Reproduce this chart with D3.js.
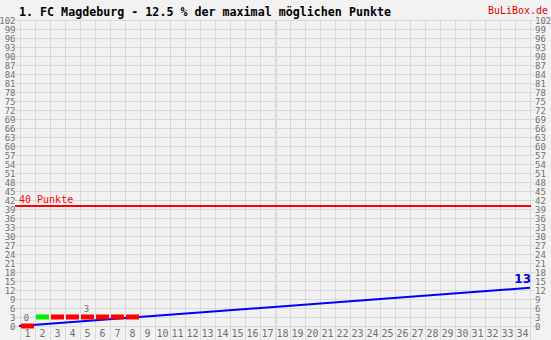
<!DOCTYPE html>
<html><head><meta charset="utf-8">
<script src="https://cdn.jsdelivr.net/npm/d3@7"></script>
<style>
html,body{margin:0;padding:0;background:#f2f2f2;}
svg{display:block;}
</style></head>
<body>
<script>
// ---- data ----
const title = "1. FC Magdeburg - 12.5 % der maximal möglichen Punkte";
const brand = "BuLiBox.de";
const matchdays = d3.range(1, 35);            // 1..34
const points = [0, 3, 3, 3, 3, 3, 3, 3];      // cumulative points after each played matchday
const results = ["L", "W", "L", "L", "L", "L", "L", "L"];
const yTicks = d3.range(0, 103, 3);           // 0..102
const targetPoints = 40;
const targetLabel = "40 Punkte";
const resultColors = {W: "#00ee00", D: "#ffee00", L: "#ff0000"};

// ---- layout ----
const W = 551, H = 340;
const svg = d3.select("body").append("svg").attr("width", W).attr("height", H);
svg.append("rect").attr("width", W).attr("height", H).attr("fill", "#f2f2f2");

const x = d3.scaleLinear().domain([0, 34]).range([20, 530]);
const y = d3.scaleLinear().domain([0, 102]).range([326, 20]);
const grid = "#d9d9d9";
const mono = "'DejaVu Sans Mono', monospace";

// horizontal gridlines
svg.append("g").selectAll("line").data(yTicks).join("line")
  .attr("x1", 15).attr("x2", 535)
  .attr("y1", d => Math.round(y(d)) + 0.5).attr("y2", d => Math.round(y(d)) + 0.5)
  .attr("stroke", grid).attr("stroke-width", 1);

// vertical gridlines
svg.append("g").selectAll("line").data(d3.range(0, 35)).join("line")
  .attr("x1", d => Math.round(x(d)) + (d === 17 ? 1 : 0.5))
  .attr("x2", d => Math.round(x(d)) + (d === 17 ? 1 : 0.5))
  .attr("y1", 20).attr("y2", H)
  .attr("stroke", grid).attr("stroke-width", d => d === 17 ? 2 : 1);

// y axis labels (left and right)
const ylab = svg.append("g").attr("font-family", mono).attr("font-size", 9).attr("fill", "#707070");
ylab.selectAll("text.l").data(yTicks).join("text").attr("class", "l")
  .attr("x", 15.5).attr("y", d => y(d) + 3.5).attr("text-anchor", "end").text(d => d);
ylab.selectAll("text.r").data(yTicks).join("text").attr("class", "r")
  .attr("x", 535).attr("y", d => y(d) + 3.5).attr("text-anchor", "start").text(d => d);

// x labels
svg.append("g").attr("font-family", mono).attr("font-size", 10).attr("fill", "#707070")
  .selectAll("text").data(matchdays).join("text")
  .attr("x", d => x(d - 0.5)).attr("y", 337).attr("text-anchor", "middle").text(d => d);

// target line
svg.append("line").attr("x1", 15).attr("x2", 531)
  .attr("y1", y(targetPoints)).attr("y2", y(targetPoints))
  .attr("stroke", "#ff0000").attr("stroke-width", 2);
svg.append("text").attr("x", 19).attr("y", 202.5).attr("font-family", mono).attr("font-size", 10)
  .attr("fill", "#ff0000").text(targetLabel);

// projection line
const played = points.length;
const projected = points[played - 1] / played * 34;
svg.append("line").attr("x1", x(0) - 1).attr("y1", y(0)).attr("x2", x(34)).attr("y2", y(projected))
  .attr("stroke", "#0000ff").attr("stroke-width", 2);
svg.append("text").attr("x", 531).attr("y", 283).attr("text-anchor", "end")
  .attr("font-family", "'DejaVu Sans', sans-serif").attr("font-weight", "bold").attr("font-size", 12)
  .attr("fill", "#0000dd").text(Math.round(projected));

// result bars
const bars = points.map((p, i) => ({md: i + 1, p, r: results[i]}));
svg.append("g").selectAll("rect").data(bars).join("rect")
  .attr("x", d => x(d.md - 1) + 1).attr("width", x(1) - x(0) - 2)
  .attr("y", d => y(d.p) - 2.5).attr("height", 5)
  .attr("fill", d => resultColors[d.r]);

// point labels every 4th matchday
svg.append("g").attr("font-family", mono).attr("font-size", 9).attr("fill", "#707070")
  .selectAll("text").data(bars.filter(d => (d.md - 1) % 4 === 0)).join("text")
  .attr("x", d => x(d.md - 0.5) - 1).attr("y", d => y(d.p) - 5).attr("text-anchor", "middle").text(d => d.p);

// title + brand
svg.append("text").attr("x", 19).attr("y", 15.5).attr("font-family", mono).attr("font-weight", "bold")
  .attr("font-size", 12).attr("textLength", 372).attr("lengthAdjust", "spacingAndGlyphs")
  .attr("fill", "#000").text(title);
svg.append("text").attr("x", 548).attr("y", 14).attr("text-anchor", "end").attr("font-family", mono)
  .attr("font-size", 10).attr("textLength", 60).attr("lengthAdjust", "spacingAndGlyphs")
  .attr("fill", "#e00000").text(brand);
</script>
</body></html>
